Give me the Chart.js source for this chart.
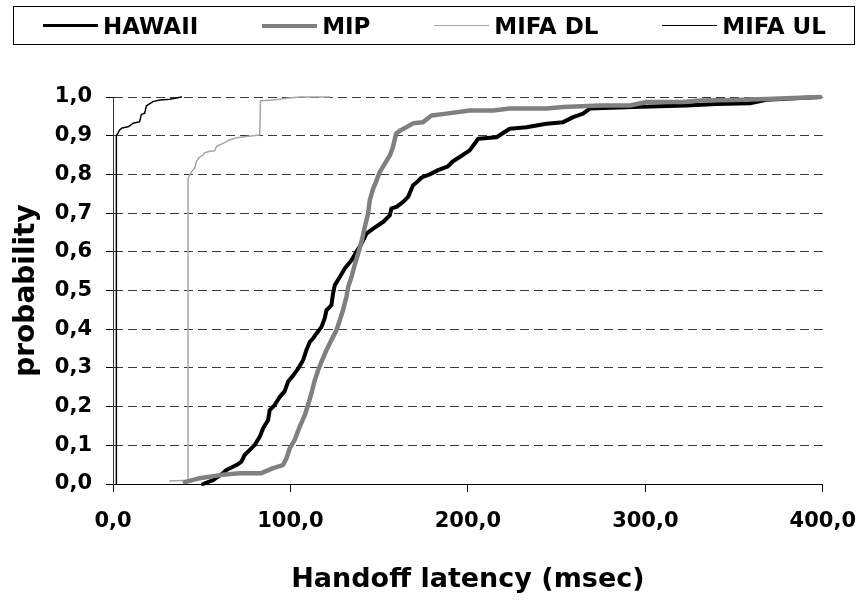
<!DOCTYPE html>
<html>
<head>
<meta charset="utf-8">
<script src="https://cdn.jsdelivr.net/npm/chart.js@4.4.1/dist/chart.umd.min.js"></script>
<style>
    body { margin: 0; background: #fff; }
    #wrap { position: relative; width: 860px; height: 601px; }
    #legend {
        position: absolute; left: 13px; top: 6px; width: 842px; height: 39px;
        border: 1px solid #000; box-sizing: border-box;
        display: flex; align-items: center; justify-content: space-between;
        padding: 0 28px 0 29px;
        font: bold 23px "DejaVu Sans", sans-serif; color: #000;
    }
    #legend .item { display: flex; align-items: center; }
    #legend .swatch { width: 55px; margin-right: 5px; }
</style>
</head>
<body>
<div id="wrap">
    <canvas id="cdfChart" width="860" height="601"></canvas>
    <div id="legend"></div>
</div>
<script>
// values (latency in msec, cumulative probability)
const seriesNames = ['HAWAII', 'MIP', 'MIFA DL', 'MIFA UL'];

const hawaiiLatency = [50.7, 56.4, 62.0, 63.9, 69.6, 72.4, 74.2, 77.1, 79.9, 82.7, 84.6, 87.4, 88.3, 91.1, 94.0, 96.8, 98.6, 101.5, 104.3, 107.1, 109.0, 110.9, 112.7, 114.7, 117.5, 119.3, 120.3, 123.1, 124.0, 125.0, 127.8, 130.6, 134.4, 137.2, 140.0, 141.9, 142.8, 146.6, 152.2, 156.0, 156.9, 159.8, 163.5, 166.3, 169.1, 172.0, 173.9, 178.5, 183.2, 188.8, 191.6, 195.4, 201.0, 205.8, 216.1, 223.6, 233.0, 244.3, 253.7, 259.3, 264.9, 268.7, 293.1, 323.2, 340.1, 358.9, 368.3, 398.4];
const hawaiiProb = [0.0, 0.01, 0.028, 0.036, 0.049, 0.058, 0.075, 0.088, 0.101, 0.122, 0.144, 0.165, 0.191, 0.204, 0.225, 0.24, 0.264, 0.28, 0.298, 0.32, 0.346, 0.367, 0.376, 0.389, 0.406, 0.428, 0.449, 0.462, 0.492, 0.514, 0.535, 0.557, 0.578, 0.6, 0.621, 0.638, 0.647, 0.66, 0.677, 0.694, 0.712, 0.716, 0.729, 0.742, 0.772, 0.783, 0.792, 0.8, 0.811, 0.821, 0.834, 0.845, 0.862, 0.892, 0.896, 0.918, 0.922, 0.931, 0.935, 0.948, 0.957, 0.97, 0.974, 0.978, 0.982, 0.984, 0.993, 1.0];

const mipLatency = [40.4, 48.9, 60.1, 71.4, 83.6, 90.2, 95.8, 97.7, 99.6, 102.4, 105.2, 108.1, 109.9, 111.8, 113.7, 115.6, 117.5, 120.3, 123.1, 125.9, 127.8, 129.6, 131.6, 132.5, 134.4, 136.2, 138.1, 140.0, 141.9, 143.7, 144.7, 146.6, 148.5, 150.3, 153.2, 156.0, 157.8, 159.5, 161.6, 165.4, 169.1, 174.7, 179.5, 187.9, 201.0, 214.2, 223.6, 244.3, 253.7, 274.3, 291.3, 300.7, 321.3, 330.7, 349.5, 368.3, 398.4];
const mipProb = [0.005, 0.015, 0.023, 0.028, 0.028, 0.041, 0.049, 0.066, 0.092, 0.114, 0.148, 0.178, 0.204, 0.234, 0.268, 0.294, 0.316, 0.346, 0.372, 0.397, 0.423, 0.449, 0.484, 0.509, 0.535, 0.566, 0.595, 0.625, 0.664, 0.698, 0.733, 0.763, 0.784, 0.806, 0.828, 0.849, 0.871, 0.905, 0.913, 0.922, 0.932, 0.935, 0.952, 0.957, 0.965, 0.965, 0.97, 0.97, 0.974, 0.978, 0.978, 0.987, 0.987, 0.991, 0.992, 0.995, 1.0];

const mifaDlLatency = [32.0, 42.3, 42.3, 44.2, 46.0, 47.0, 48.5, 50.7, 51.7, 54.5, 57.3, 58.3, 62.0, 65.8, 69.6, 75.2, 82.7, 83.1, 90.2, 97.7, 105.2, 122.0];
const mifaDlProb = [0.008, 0.01, 0.79, 0.807, 0.816, 0.833, 0.844, 0.85, 0.856, 0.86, 0.861, 0.872, 0.88, 0.889, 0.895, 0.898, 0.902, 0.99, 0.992, 0.997, 1.0, 1.0];

const mifaUlLatency = [1.9, 1.9, 3.8, 5.1, 8.5, 11.3, 15.0, 16.0, 17.9, 18.8, 22.5, 26.3, 32.0, 38.6];
const mifaUlProb = [0.0, 0.9, 0.915, 0.92, 0.923, 0.932, 0.936, 0.955, 0.958, 0.977, 0.988, 0.992, 0.994, 1.0];

const xTicks = [0, 100, 200, 300, 400];

function toPoints(xs, ys) {
    return xs.map((x, i) => ({ x: x, y: ys[i] }));
}

const commaFmt = v => v.toFixed(1).replace('.', ',');
const boldFont = (size, lineHeight) => ({ family: '"DejaVu Sans", sans-serif', size: size, weight: 'bold', lineHeight: lineHeight || 1.2 });

const ctx = document.getElementById('cdfChart');

const cdfChart = new Chart(ctx, {
    type: 'line',
    data: {
        datasets: [{
            label: seriesNames[0],
            data: toPoints(hawaiiLatency, hawaiiProb),
            borderColor: '#000000',
            borderWidth: 4,
            legendWidth: 3.5,
            order: 1
        },
        {
            label: seriesNames[1],
            data: toPoints(mipLatency, mipProb),
            borderColor: '#808080',
            borderWidth: 4.5,
            legendWidth: 4,
            order: 0
        },
        {
            label: seriesNames[2],
            data: toPoints(mifaDlLatency, mifaDlProb),
            borderColor: '#a6a6a6',
            borderWidth: 1.5,
            legendWidth: 1.5,
            order: 2
        },
        {
            label: seriesNames[3],
            data: toPoints(mifaUlLatency, mifaUlProb),
            borderColor: '#000000',
            borderWidth: 1.5,
            legendWidth: 1.5,
            order: 3
        }]
    },
    options: {
        responsive: false,
        animation: false,
        clip: false,
        elements: {
            point: { radius: 0 },
            line: { tension: 0, fill: false, borderJoinStyle: 'round', borderCapStyle: 'round' }
        },
        layout: {
            padding: { top: 97, right: 37, bottom: 0, left: 0 }
        },
        plugins: {
            legend: { display: false },
            tooltip: { enabled: false }
        },
        scales: {
            x: {
                type: 'linear',
                min: 0,
                max: 400,
                afterBuildTicks: scale => { scale.ticks = xTicks.map(v => ({ value: v })); },
                afterFit: scale => { scale.height = 117; },
                ticks: {
                    color: '#000',
                    // tall line box pushes labels down without widening the right padding
                    font: boldFont(21, '52px'),
                    padding: 4,
                    maxRotation: 0,
                    callback: v => commaFmt(v)
                },
                grid: {
                    drawOnChartArea: false,
                    drawTicks: true,
                    tickLength: 8,
                    tickColor: '#000'
                },
                border: { color: '#000', width: 1 },
                title: {
                    display: true,
                    text: 'Handoff latency (msec)',
                    color: '#000',
                    font: boldFont(27),
                    padding: { top: 0, bottom: 5 }
                }
            },
            y: {
                min: 0,
                max: 1,
                afterFit: scale => { scale.width = 113; },
                ticks: {
                    stepSize: 0.1,
                    color: '#000',
                    font: boldFont(21),
                    padding: 14,
                    callback: v => commaFmt(v)
                },
                grid: {
                    color: '#3a3a3a',
                    lineWidth: 1,
                    tickLength: 7,
                    tickColor: '#000'
                },
                border: { color: '#333', width: 1, dash: [9, 5] },
                title: {
                    display: true,
                    text: 'probability',
                    color: '#000',
                    font: boldFont(28),
                    padding: { top: 10, bottom: 0 }
                }
            }
        }
    }
});

// Legend box built from the chart's own datasets
const legendEl = document.getElementById('legend');
cdfChart.data.datasets.forEach(ds => {
    const item = document.createElement('div');
    item.className = 'item';
    const swatch = document.createElement('span');
    swatch.className = 'swatch';
    swatch.style.borderTop = ds.legendWidth + 'px solid ' + ds.borderColor;
    const text = document.createElement('span');
    text.textContent = ds.label;
    item.appendChild(swatch);
    item.appendChild(text);
    legendEl.appendChild(item);
});
</script>
</body>
</html>
